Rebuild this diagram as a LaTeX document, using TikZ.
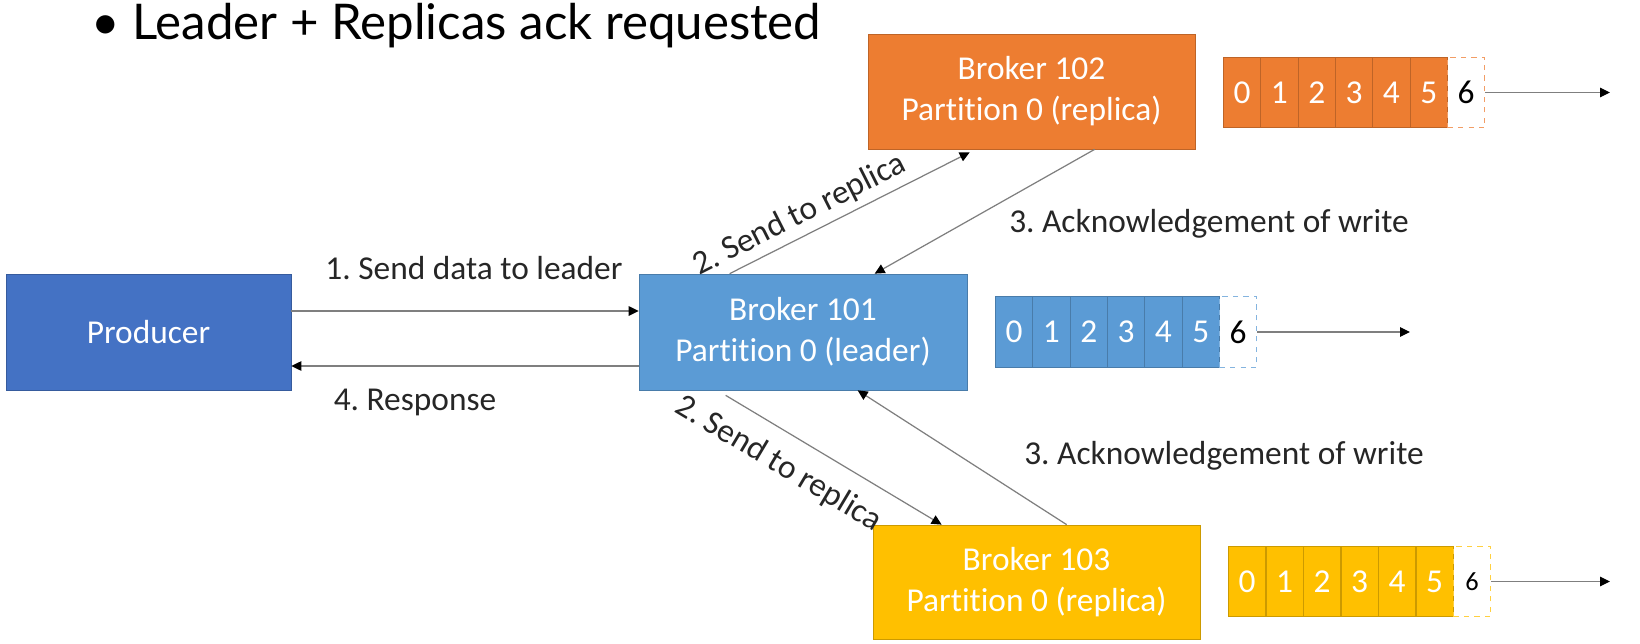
\documentclass[tikz,border=0pt]{standalone}
\usepackage{fontspec}
\setmainfont{Carlito}[Ligatures=NoCommon]
\newfontfamily\titlefont{Lato}
\usepackage{tikz}
\usetikzlibrary{shapes,arrows,arrows.meta,positioning}
\frenchspacing

\definecolor{prodblue}{HTML}{4472C4}
\definecolor{leadblue}{HTML}{5B9BD5}
\definecolor{replorange}{HTML}{ED7D31}
\definecolor{replyellow}{HTML}{FFC000}
\definecolor{linegray}{HTML}{7F7F7F}

\newcommand{\boxfont}{\fontsize{19}{23.3}\selectfont}
\newcommand{\cellfont}{\fontsize{19}{21}\selectfont}

\tikzset{
    broker/.style={
        draw=#1!80!black,
        fill=#1,
        text=white,
        minimum width=6.56cm,
        minimum height=2.32cm,
        inner sep=0pt,
        align=center,
        font=\boxfont
    },
    cell/.style={
        draw=#1!80!black,
        fill=#1,
        text=white,
        minimum width=0.747cm,
        minimum height=1.41cm,
        inner sep=0pt,
        font=\cellfont
    },
    slot/.style={
        draw=#1!75,
        dashed,
        minimum width=0.747cm,
        minimum height=1.41cm,
        inner sep=0pt,
        font=\cellfont
    },
    flow/.style={
        draw=linegray,
        line width=0.7pt,
        -{Triangle[length=2mm,width=1.9mm,color=black]}
    },
    lbl/.style={
        font=\boxfont,
        text=black!85
    }
}

\begin{document}
\begin{tikzpicture}
    \useasboundingbox (0,0) rectangle (32.8,-12.88);

    \node[anchor=west, font=\titlefont\fontsize{28}{33}\selectfont] (title) at (1.7,-0.52) {\textbullet\ Leader + Replicas ack requested};

    \node[broker=prodblue, minimum width=5.7cm] (producer) at (2.97,-6.64) {Producer};
    \node[broker=leadblue] (b101) at (16.06,-6.64) {Broker 101\\Partition 0 (leader)};
    \node[broker=replorange, minimum width=6.54cm, minimum height=2.3cm] (b102) at (20.63,-1.83) {Broker 102\\Partition 0 (replica)};
    \node[broker=replyellow, minimum width=6.54cm, minimum height=2.28cm] (b103) at (20.73,-11.64) {Broker 103\\Partition 0 (replica)};

    \draw[flow] ([yshift=0.42cm]producer.east) -- ([yshift=0.42cm]b101.west);
    \draw[flow] ([yshift=-0.68cm]b101.west) -- ([yshift=-0.68cm]producer.east);
    \node[lbl] (send1) at (9.48,-5.36) {1. Send data to leader};
    \node[lbl] (resp4) at (8.3,-8.04) {4. Response};

    \draw[flow] ([xshift=1.82cm]b101.north west) -- node[lbl, sloped, above, pos=.33] (send2a) {2. Send to replica} ([xshift=2.04cm, yshift=-0.06cm]b102.south west);
    \draw[flow] ([xshift=4.54cm]b102.south west) -- ([xshift=4.72cm]b101.north west);
    \draw[flow] ([xshift=1.74cm, yshift=-0.1cm]b101.south west) -- node[lbl, sloped, below=0.22cm, pos=.32] (send2b) {2. Send to replica} ([xshift=1.38cm]b103.north west);
    \draw[flow] ([xshift=3.88cm]b103.north west) -- ([xshift=4.38cm]b101.south west);
    \node[lbl] (ack3a) at (24.18,-4.48) {3. Acknowledgement of write};
    \node[lbl] (ack3b) at (24.48,-9.12) {3. Acknowledgement of write};

    \foreach \i in {0,...,5}
        \node[cell=replorange, anchor=west] (o\i) at (24.46+\i*0.747,-1.85) {\i};
    \node[slot=replorange, anchor=west] (o6) at (24.46+6*0.747,-1.85) {6};
    \coordinate (oend) at (32.2,-1.85);
    \draw[flow] (o6.east) -- (oend);

    \foreach \i in {0,...,5}
        \node[cell=leadblue, anchor=west] (l\i) at (19.9+\i*0.747,-6.64) {\i};
    \node[slot=leadblue, anchor=west] (l6) at (19.9+6*0.747,-6.64) {6};
    \coordinate (lend) at (28.2,-6.64);
    \draw[flow] (l6.east) -- (lend);

    \foreach \i in {0,...,5}
        \node[cell=replyellow, anchor=west] (y\i) at (24.56+\i*0.75,-11.63) {\i};
    \node[slot=replyellow, anchor=west, font=\fontsize{15}{17}\selectfont] (y6) at (24.56+6*0.75,-11.63) {6};
    \coordinate (yend) at (32.2,-11.63);
    \draw[flow] (y6.east) -- (yend);
\end{tikzpicture}
\end{document}
